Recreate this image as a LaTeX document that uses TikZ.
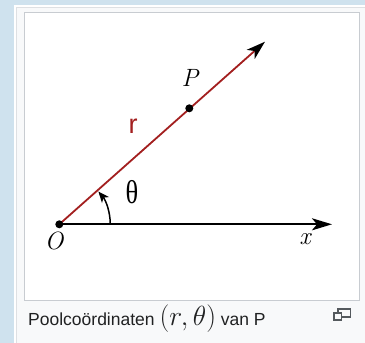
\documentclass[tikz,border=0pt]{standalone}
\usepackage{fontspec}
\setmainfont{Latin Modern Roman}
\newfontfamily\capfont{Liberation Sans}
\newfontfamily\greekfont{Liberation Serif}
\usetikzlibrary{arrows.meta}
\definecolor{pageblue}{HTML}{CFE2EE}
\definecolor{panelgray}{HTML}{F8F9FA}
\definecolor{framegray}{HTML}{C8CCD1}
\definecolor{linered}{RGB}{163,31,31}
\definecolor{captext}{HTML}{202122}
\definecolor{icongray}{HTML}{54595D}

\begin{document}
\begin{tikzpicture}[x=1pt,y=1pt,
  axis/.style={line width=2.2pt,-{Stealth[length=20pt,width=12pt,inset=5pt]}},
  radius line/.style={line width=1.8pt,linered,-{Stealth[length=19pt,width=12pt,inset=5pt,black]}},
  mathlabel/.style={font=\itshape\fontsize{25}{25}\selectfont}]
\useasboundingbox (0,0) rectangle (365,343);
% frame
\fill[pageblue] (0,0) rectangle (365,343);
\fill[white] (14,0) rectangle (365,338);
\filldraw[fill=panelgray,draw=framegray!60,line width=0.8pt] (16,0) rectangle (365,336);
\filldraw[fill=white,draw=framegray,line width=1pt] (24,42) rectangle (359,330);
% points
\coordinate (O) at (59.3,118.7);
\coordinate (xtip) at (332,118.7);
\coordinate (rtip) at (265,301.3);
\coordinate (P) at (189.3,234.7);
% axes
\draw[axis] (O) -- (xtip);
\draw[radius line] (O) -- (rtip);
\draw[line width=1.5pt,-{Stealth[length=11pt,width=9pt,inset=3pt]}] ([shift={(0:51)}]O) arc (0:40:51);
\fill (O) circle (4);
\fill (P) circle (4);
% labels
\node[mathlabel] (Olabel) at (54,102.5) {O};
\node[mathlabel] (xlabel) at (305,103.5) {x};
\node[mathlabel] (Plabel) at (190,265.5) {P};
\node[font=\capfont\fontsize{27}{27}\selectfont,text=linered] (rlabel) at (133,217) {r};
\node[font=\greekfont\fontsize{33}{33}\selectfont] (tlabel) at (132,151) {\scalebox{0.8}[1]{θ}};
% caption
\node[anchor=base west,inner sep=0pt,text=captext,font=\capfont\fontsize{17.5}{17.5}\selectfont] (caption) at (28,17) {Poolcoördinaten \scalebox{1.6}{$(r,\theta)$} van P};
% enlarge icon
\draw[icongray,line width=1.1pt] (338,26) rectangle (350.5,34);
\filldraw[fill=panelgray,draw=icongray,line width=1.1pt] (334,23) rectangle (341.5,30);
\end{tikzpicture}
\end{document}
